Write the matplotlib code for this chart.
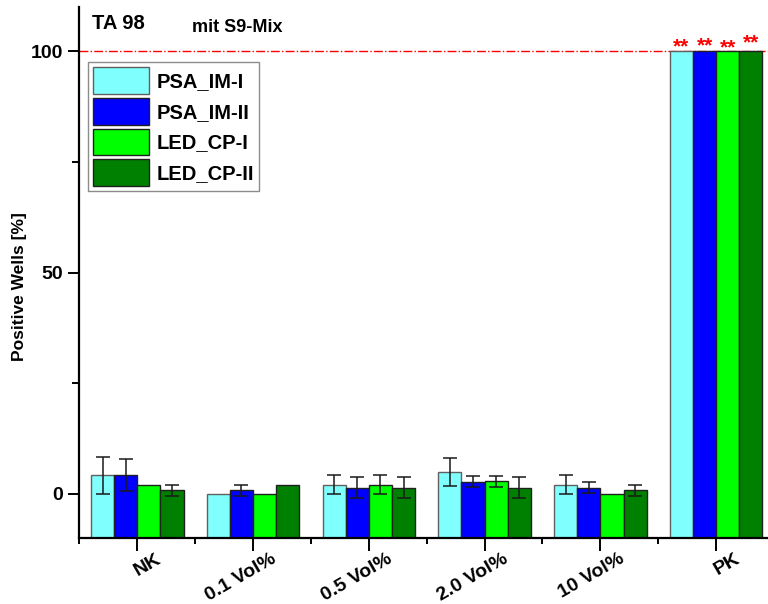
import numpy as np
import matplotlib.pyplot as plt
from matplotlib.ticker import FixedLocator
from matplotlib.transforms import ScaledTranslation


groups = ["NK", "0.1 Vol%", "0.5 Vol%", "2.0 Vol%", "10 Vol%", "PK"]
series = ["PSA_IM-I", "PSA_IM-II", "LED_CP-I", "LED_CP-II"]
colors = ["#80FFFF", "#0000FF", "#00FF00", "#008000"]

psa_im_1 = [4.17, 0.0, 2.08, 4.9, 2.08, 100.0]
psa_im_2 = [4.17, 0.75, 1.36, 2.7, 1.36, 100.0]
led_cp_1 = [2.08, 0.0, 2.08, 2.8, 0.0, 100.0]
led_cp_2 = [0.75, 2.08, 1.36, 1.36, 0.75, 100.0]

psa_im_1_err = [4.17, 0.0, 2.08, 3.2, 2.08, 0.0]
psa_im_2_err = [3.6, 1.15, 2.4, 1.2, 1.2, 0.0]
led_cp_1_err = [0.0, 0.0, 2.08, 1.2, 0.0, 0.0]
led_cp_2_err = [1.15, 0.0, 2.4, 2.4, 1.15, 0.0]

stars = ["**", "**", "**", "**"]


def generate_chart():

    plt.rcParams["font.family"] = ["Liberation Sans", "DejaVu Sans"]
    plt.rcParams["font.weight"] = "bold"

    fig = plt.figure(figsize=(7.68, 6.04), dpi=100)
    ax = fig.add_axes([79.4 / 768, 66 / 604, 694.6 / 768, 531 / 604])

    y_bottom = -10
    y_top = 110

    values = [psa_im_1, psa_im_2, led_cp_1, led_cp_2]
    errors = [psa_im_1_err, psa_im_2_err, led_cp_1_err, led_cp_2_err]

    x = np.arange(1, len(groups) + 1)
    width = 0.2
    offsets = [-0.3, -0.1, 0.1, 0.3]

    # bars rise from the bottom of the axis, not from zero
    for vals, errs, col, name, off in zip(values, errors, colors, series, offsets):
        edge = "#606060" if col == "#80FFFF" else "#202020"
        ax.bar(
            x + off, np.array(vals) - y_bottom, width, bottom=y_bottom,
            color=col, edgecolor=edge, linewidth=1.0,
            label=name, zorder=2
        )
        err_x = [xi + off for xi, e in zip(x, errs) if e > 0]
        err_y = [v for v, e in zip(vals, errs) if e > 0]
        err_e = [e for e in errs if e > 0]
        ax.errorbar(
            err_x, err_y, yerr=err_e,
            fmt="none", ecolor="#1a1a1a", elinewidth=1.1,
            capsize=5, capthick=1.1, zorder=3
        )

    # significance marks on the positive control
    pk = len(groups) - 1
    star_lift = [-0.2, 0.0, -0.4, 0.7]
    for vals, off, s, lift in zip(values, offsets, stars, star_lift):
        ax.text(
            x[pk] + off, vals[pk] + lift, s,
            color="#FF0000", fontsize=15,
            ha="center", va="baseline", zorder=4
        )

    ax.axhline(100, color="#FF0000", linestyle="-.", linewidth=1.0, zorder=1)

    ax.set_xlim(0.5, 6.5)
    ax.set_ylim(y_bottom, y_top)

    ax.spines["top"].set_visible(False)
    ax.spines["right"].set_visible(False)
    ax.spines["left"].set_linewidth(1.6)
    ax.spines["bottom"].set_linewidth(1.6)

    ax.set_yticks([0, 50, 100])
    ax.yaxis.set_minor_locator(FixedLocator([25, 75]))
    ax.tick_params(axis="y", which="major", length=8, width=1.4,
                   labelsize=14, pad=4)
    ax.tick_params(axis="y", which="minor", length=5, width=1.4)

    ax.set_xticks(x)
    ax.set_xticklabels(groups)
    ax.xaxis.set_minor_locator(FixedLocator(np.arange(0.5, 7.0, 1.0)))
    ax.tick_params(axis="x", which="major", length=9, width=1.4,
                   labelsize=14, pad=2)
    ax.tick_params(axis="x", which="minor", length=4, width=1.4)

    shift = ScaledTranslation(18 / 100, 3 / 100, fig.dpi_scale_trans)
    for lab in ax.get_xticklabels():
        lab.set_rotation(30)
        lab.set_ha("right")
        lab.set_va("top")
        lab.set_rotation_mode("anchor")
        lab.set_transform(lab.get_transform() + shift)

    fig.text(20 / 768, 1 - 287 / 604, "Positive Wells [%]",
             rotation=90, ha="center", va="center", fontsize=12.5)

    fig.text(92 / 768, 1 - 29 / 604, "TA 98", fontsize=14.5, va="baseline")
    fig.text(192 / 768, 1 - 32 / 604, "mit S9-Mix", fontsize=13, va="baseline")

    leg = ax.legend(
        loc="upper left", bbox_to_anchor=(0.0124, 0.896),
        fontsize=14.5, frameon=True, fancybox=False,
        handlelength=2.8, handleheight=1.66, handletextpad=0.35,
        labelspacing=0.2, borderpad=0.25, borderaxespad=0
    )
    leg.get_frame().set_edgecolor("#707070")
    leg.get_frame().set_linewidth(1.0)

    fig.savefig("out.png", dpi=100)
    plt.close(fig)


if __name__ == "__main__":

    generate_chart()
